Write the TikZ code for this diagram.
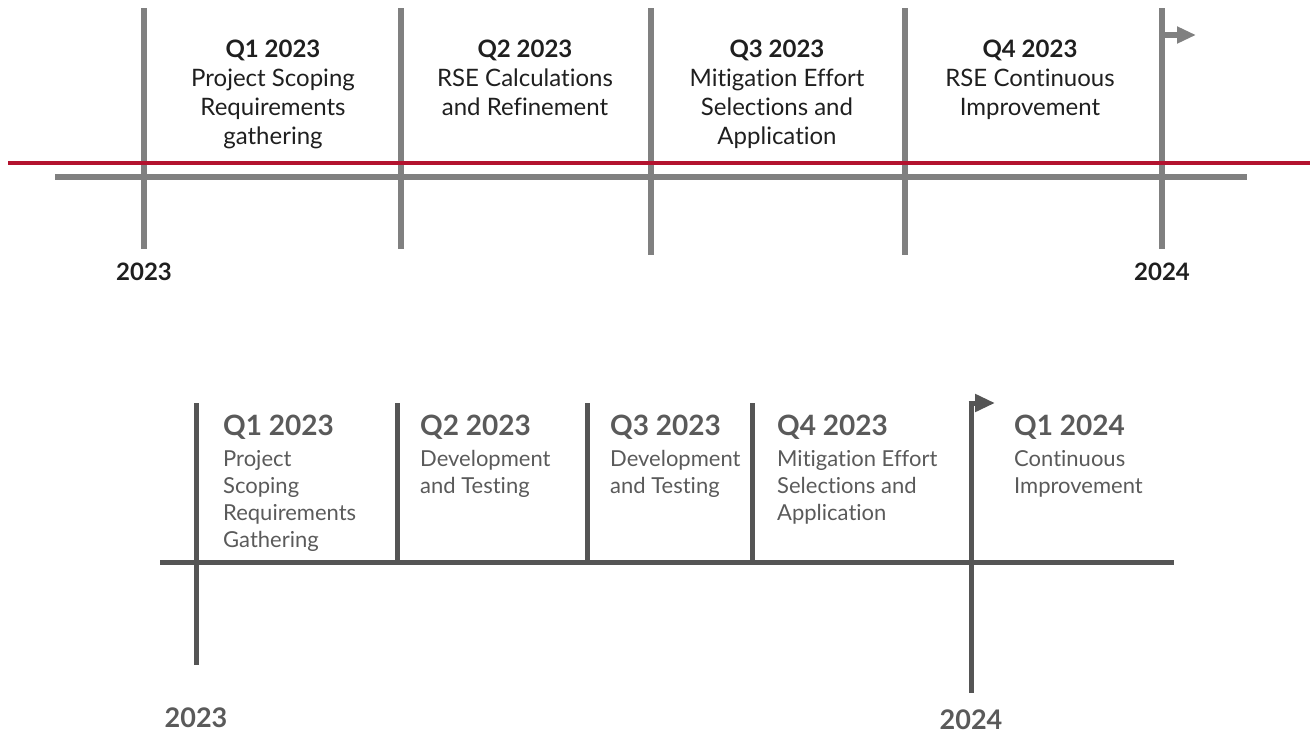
\documentclass[tikz,border=0pt]{standalone}
\usepackage{fontspec}
\setmainfont{Lato}[Ligatures=NoCommon]
\usetikzlibrary{arrows.meta,positioning}
\definecolor{tickgray}{HTML}{808080}
\definecolor{railred}{HTML}{B3122E}
\definecolor{darkline}{HTML}{555555}
\definecolor{softtext}{HTML}{5A5A5A}

\begin{document}
\begin{tikzpicture}[
    x=1pt, y=-1pt,
    node distance=14pt,
    every node/.style={inner sep=0pt},
    qtick/.style={draw=tickgray, line width=5.5pt},
    baseaxis/.style={draw=tickgray, line width=6pt},
    redline/.style={draw=railred, line width=4.5pt},
    qflag/.style={draw=tickgray, line width=5.5pt, -{Triangle[length=19pt, width=16pt]}},
    quarter/.style={align=center, anchor=north, text=black!88, font=\fontsize{24}{29}\selectfont},
    yearlbl/.style={text=black!88, font=\fontsize{24}{29}\selectfont\bfseries},
    btick/.style={draw=darkline, line width=5pt},
    bflag/.style={draw=darkline, line width=5pt, -{Triangle[length=20pt, width=17pt]}},
    btitle/.style={anchor=north west, text=softtext, text depth=0pt, font=\fontsize{28}{34}\selectfont\bfseries},
    bdesc/.style={align=left, text=softtext, font=\fontsize{22}{27}\selectfont},
    byear/.style={text=softtext, font=\fontsize{27}{32}\selectfont\bfseries}
]
\useasboundingbox (0,0) rectangle (1310,755);

% upper timeline
\coordinate (t1top) at (144,8);   \coordinate (t1bot) at (144,249);
\coordinate (t2top) at (401,8);   \coordinate (t2bot) at (401,249);
\coordinate (t3top) at (651,8);   \coordinate (t3bot) at (651,255);
\coordinate (t4top) at (905,8);   \coordinate (t4bot) at (905,255);
\coordinate (t5top) at (1162,8);  \coordinate (t5bot) at (1162,249);
\coordinate (t5flag) at (1162,35); \coordinate (t5tip) at (1196,35);
\coordinate (axisL) at (55,177);  \coordinate (axisR) at (1247,177);
\coordinate (redL) at (8,163);    \coordinate (redR) at (1310,163);

\draw[qtick] (t1top) -- (t1bot);
\draw[qtick] (t2top) -- (t2bot);
\draw[qtick] (t3top) -- (t3bot);
\draw[qtick] (t4top) -- (t4bot);
\draw[qtick] (t5top) -- (t5bot);
\draw[qflag] (t5flag) -- (t5tip);
\draw[baseaxis] (axisL) -- (axisR);
\draw[redline] (redL) -- (redR);

\node[quarter] (q1) at (273,40) {\textbf{Q1 2023}\\Project Scoping\\Requirements\\gathering};
\node[quarter] (q2) at (525,40) {\textbf{Q2 2023}\\RSE Calculations\\and Refinement};
\node[quarter] (q3) at (777,40) {\textbf{Q3 2023}\\Mitigation Effort\\Selections and\\Application};
\node[quarter] (q4) at (1030,40) {\textbf{Q4 2023}\\RSE Continuous\\Improvement};
\node[yearlbl, below=14pt of t1bot] (yr1) {2023};
\node[yearlbl, below=14pt of t5bot] (yr2) {2024};

% lower timeline
\coordinate (b1top) at (196,403);  \coordinate (b1bot) at (196,665);
\coordinate (b2top) at (397,403);  \coordinate (b2bot) at (397,562);
\coordinate (b3top) at (587,403);  \coordinate (b3bot) at (587,562);
\coordinate (b4top) at (752,403);  \coordinate (b4bot) at (752,562);
\coordinate (b5top) at (971,401);  \coordinate (b5bot) at (971,693);
\coordinate (b5flag) at (968.5,403); \coordinate (b5tip) at (995,403);
\coordinate (lineL) at (160,562);  \coordinate (lineR) at (1174,562);

\draw[btick] (b1top) -- (b1bot);
\draw[btick] (b2top) -- (b2bot);
\draw[btick] (b3top) -- (b3bot);
\draw[btick] (b4top) -- (b4bot);
\draw[btick] (b5top) -- (b5bot);
\draw[bflag] (b5flag) -- (b5tip);
\draw[btick] (lineL) -- (lineR);

\node[btitle] (p1) at (223,415) {Q1 2023};
\node[bdesc, below=14pt of p1.south west, anchor=north west] (d1) {Project\\Scoping\\Requirements\\Gathering};
\node[btitle] (p2) at (420,415) {Q2 2023};
\node[bdesc, below=14pt of p2.south west, anchor=north west] (d2) {Development\\and Testing};
\node[btitle] (p3) at (610,415) {Q3 2023};
\node[bdesc, below=14pt of p3.south west, anchor=north west] (d3) {Development\\and Testing};
\node[btitle] (p4) at (777,415) {Q4 2023};
\node[bdesc, below=14pt of p4.south west, anchor=north west] (d4) {Mitigation Effort\\Selections and\\Application};
\node[btitle] (p5) at (1014,415) {Q1 2024};
\node[bdesc, below=14pt of p5.south west, anchor=north west] (d5) {Continuous\\Improvement};
\node[byear, below=43pt of b1bot] (by1) {2023};
\node[byear, below=17pt of b5bot] (by2) {2024};
\end{tikzpicture}
\end{document}
